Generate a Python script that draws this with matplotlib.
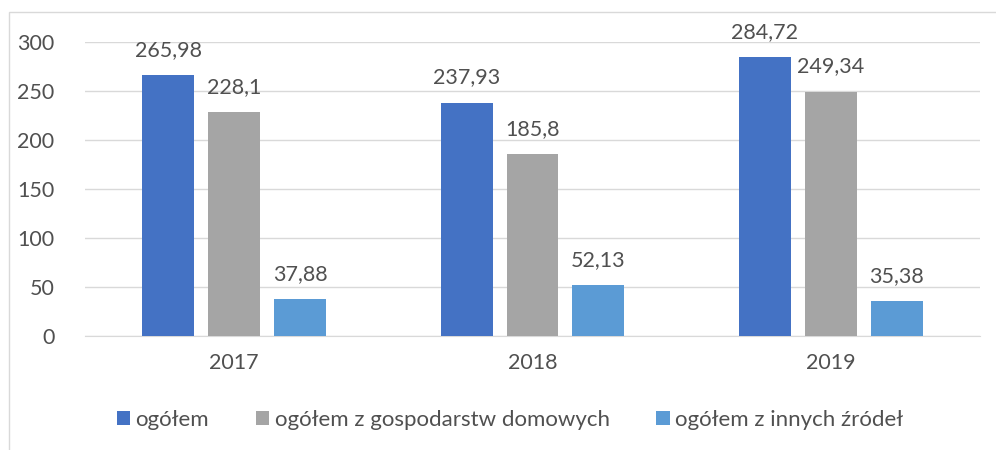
import matplotlib
matplotlib.use("Agg")
import matplotlib.pyplot as plt
import numpy as np
from matplotlib.patches import Rectangle

years = ["2017", "2018", "2019"]
series_names = ["ogółem", "ogółem z gospodarstw domowych", "ogółem z innych źródeł"]
total = [265.98, 237.93, 284.72]
households = [228.1, 185.8, 249.34]
other = [37.88, 52.13, 35.38]
labels_total = ["265,98", "237,93", "284,72"]
labels_households = ["228,1", "185,8", "249,34"]
labels_other = ["37,88", "52,13", "35,38"]
yticks = [0, 50, 100, 150, 200, 250, 300]

colors = ["#4472C4", "#A5A5A5", "#5B9BD5"]
txt = "#505050"
plt.rcParams['font.family'] = ['Lato', 'DejaVu Sans']
fs = 15.5

fig = plt.figure(figsize=(9.96, 4.5), dpi=100)
W, H = 996, 450
ax = fig.add_axes([85 / W, 1 - 336 / H, 895 / W, 294 / H])

x = np.arange(len(years))
bw = 0.174
off = 0.221
data = [total, households, other]
labs = [labels_total, labels_households, labels_other]
for i, (vals, lb) in enumerate(zip(data, labs)):
    pos = x + (i - 1) * off
    ax.bar(pos, vals, width=bw, color=colors[i], label=series_names[i], zorder=3)
    for p, v, t in zip(pos, vals, lb):
        ax.annotate(t, (p, v), xytext=(0, 11), textcoords="offset points",
                    ha="center", va="bottom", fontsize=fs, color=txt)

ax.set_xlim(-0.5, 2.5)
ax.set_ylim(0, 300)
ax.set_yticks(yticks)
ax.set_xticks(x)
ax.set_xticklabels(years)
ax.tick_params(axis="both", length=0, labelsize=fs, colors=txt)
ax.tick_params(axis="y", pad=22)
ax.tick_params(axis="x", pad=12)
ax.grid(axis="y", color="#D9D9D9", linewidth=1, zorder=0)
for s in ["top", "right", "left"]:
    ax.spines[s].set_visible(False)
ax.spines["bottom"].set_color("#D9D9D9")

fig.legend(loc="center", bbox_to_anchor=(0.5 + 12 / W, 1 - 420 / H), ncol=3, frameon=False,
           fontsize=16, handlelength=0.6, handleheight=0.6, handletextpad=0.25,
           columnspacing=2.1, labelcolor=txt)

fig.patches.append(Rectangle((9 / W, -0.1), 1.2, 1 - 12 / H + 0.1, transform=fig.transFigure,
                             fill=False, edgecolor="#D9D9D9", linewidth=1))

fig.savefig("out.png", dpi=100)
